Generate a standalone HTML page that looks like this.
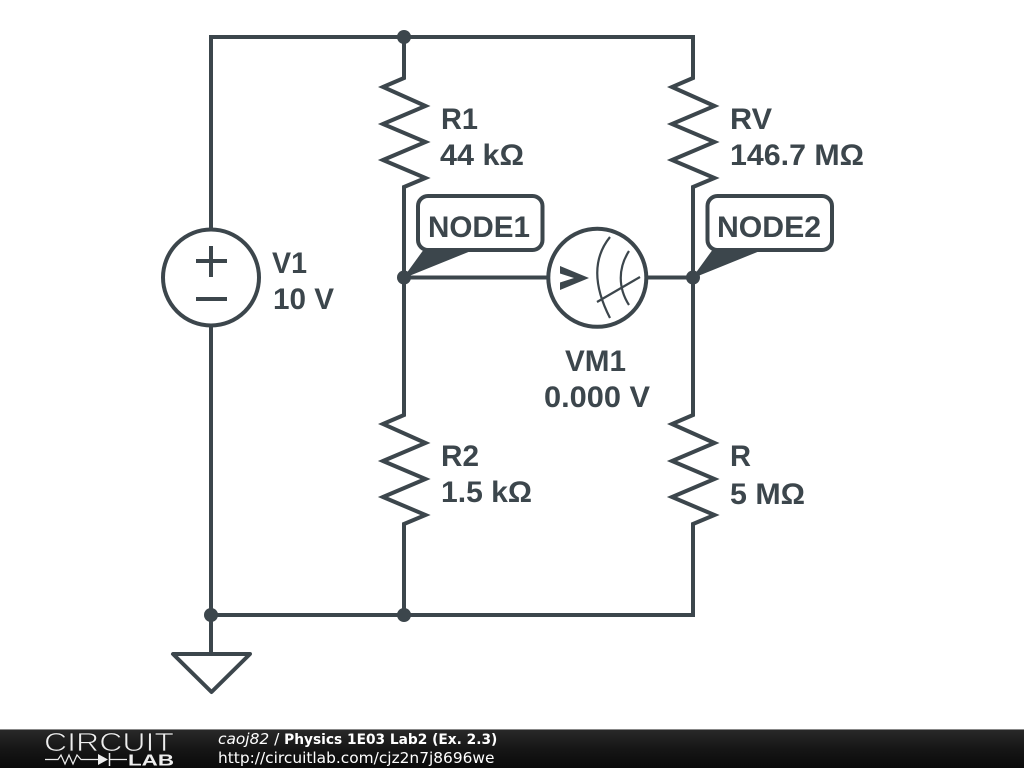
<!DOCTYPE html>
<html><head><meta charset="utf-8"><style>
html,body{margin:0;padding:0;background:#fff;width:1024px;height:768px;overflow:hidden}
svg{display:block}
.l{font:bold 30px "Liberation Sans",sans-serif;fill:#3c464c}
.f{font:15.4px "DejaVu Sans",sans-serif;fill:#fff}
</style></head><body>
<svg width="1024" height="768" viewBox="0 0 1024 768" xmlns="http://www.w3.org/2000/svg">
<defs><linearGradient id="g" x1="0" y1="0" x2="0" y2="1"><stop offset="0" stop-color="#2a2a2a"/><stop offset="0.5" stop-color="#161616"/><stop offset="1" stop-color="#0a0a0a"/></linearGradient></defs>
<g fill="none" stroke="#3c464c" stroke-width="4" stroke-linejoin="miter">
<path d="M211 229V37H693V78L672 87L714.500 106L672 124L714.500 142L672 160L714.500 178L693 187V415L672 424L714.500 443L672 461L714.500 479L672 497L714.500 515L693 524V615H211V327"/>
<path d="M404 37V78L383 87L425.500 106L383 124L425.500 142L383 160L425.500 178L404 187V415L383 424L425.500 443L383 461L425.500 479L383 497L425.500 515L404 524V615"/>
<path d="M404 277.500H548M646 277.500H693M211 615V654"/>
<circle cx="211" cy="277.500" r="48"/>
<path d="M196 261H227M211 246V277M196 299H227"/>
<circle cx="597.300" cy="277.800" r="49"/>
<path d="M173 654H250L211.500 692Z" stroke-linejoin="round"/>
<rect x="418" y="196" width="124.500" height="54" rx="10" fill="#fff"/>
<rect x="707.500" y="196" width="124.500" height="54" rx="10" fill="#fff"/>
</g>
<path d="M560 266L589 278L560 290V282.500L574 278L560 273.500Z" fill="#3c464c"/>
<g fill="none" stroke="#3c464c" stroke-width="2.200">
<path d="M610 237C593 258 593 285 610 318"/>
<path d="M629 251C618 268 618 288 629 305"/>
<path d="M597 302L640 277"/>
</g>
<path d="M404 277.500L424 250H472Z" fill="#3c464c" stroke="#3c464c" stroke-width="1"/>
<path d="M693 277.500L713 250H761Z" fill="#3c464c" stroke="#3c464c" stroke-width="1"/>
<circle cx="404" cy="37" r="7" fill="#3c464c"/>
<circle cx="404" cy="277.500" r="7" fill="#3c464c"/>
<circle cx="693" cy="277.500" r="7" fill="#3c464c"/>
<circle cx="211" cy="615" r="7" fill="#3c464c"/>
<circle cx="404" cy="615" r="7" fill="#3c464c"/>
<text class="l" x="441" y="129" textLength="37" lengthAdjust="spacingAndGlyphs">R1</text>
<text class="l" x="440" y="165" textLength="84" lengthAdjust="spacingAndGlyphs">44 kΩ</text>
<text class="l" x="730" y="129" textLength="42" lengthAdjust="spacingAndGlyphs">RV</text>
<text class="l" x="730" y="165" textLength="134" lengthAdjust="spacingAndGlyphs">146.7 MΩ</text>
<text class="l" x="428" y="237" textLength="102" lengthAdjust="spacingAndGlyphs">NODE1</text>
<text class="l" x="717" y="237" textLength="104" lengthAdjust="spacingAndGlyphs">NODE2</text>
<text class="l" x="272" y="273" textLength="35" lengthAdjust="spacingAndGlyphs">V1</text>
<text class="l" x="273" y="309" textLength="61" lengthAdjust="spacingAndGlyphs">10 V</text>
<text class="l" x="565" y="371" textLength="61" lengthAdjust="spacingAndGlyphs">VM1</text>
<text class="l" x="544" y="407" textLength="106" lengthAdjust="spacingAndGlyphs">0.000 V</text>
<text class="l" x="441" y="466" textLength="38" lengthAdjust="spacingAndGlyphs">R2</text>
<text class="l" x="441" y="502" textLength="91" lengthAdjust="spacingAndGlyphs">1.5 kΩ</text>
<text class="l" x="730" y="466" textLength="21" lengthAdjust="spacingAndGlyphs">R</text>
<text class="l" x="730" y="504" textLength="75" lengthAdjust="spacingAndGlyphs">5 MΩ</text>
<rect x="0" y="729" width="1024" height="39" fill="url(#g)"/>
<rect x="0" y="729" width="1024" height="1" fill="#888"/>
<text x="44" y="751" font-family="Liberation Sans,sans-serif" font-size="26" fill="#eee" stroke="#1c1c1c" stroke-width="0.800" textLength="130" lengthAdjust="spacingAndGlyphs">CIRCUIT</text>
<path d="M45 759.500H58L61 755L65 764L69 755L73 764L77 755L81 759.500H98M110 759.500H127" fill="none" stroke="#eee" stroke-width="1.200"/>
<path d="M98 754V765L108 759.500Z" fill="#eee"/><path d="M109.500 753V766" stroke="#eee" stroke-width="1.500"/>
<text x="128" y="765.500" font-family="Liberation Sans,sans-serif" font-weight="bold" font-size="16" fill="#eee" textLength="46" lengthAdjust="spacingAndGlyphs">LAB</text>
<text class="f" x="218" y="744"><tspan font-style="italic">caoj82</tspan> / <tspan font-weight="bold" font-size="13.750">Physics 1E03 Lab2 (Ex. 2.3)</tspan></text>
<text class="f" x="218" y="763">http://circuitlab.com/cjz2n7j8696we</text>
</svg>
</body></html>
